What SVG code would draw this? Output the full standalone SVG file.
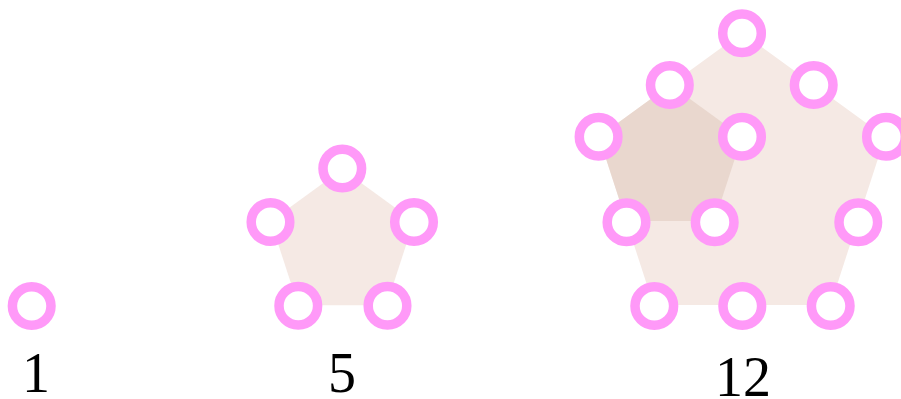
<svg xmlns="http://www.w3.org/2000/svg" width="901" height="399" viewBox="0 0 901 399">
<style>
.dot{fill:#ffffff;stroke:#ff99f8;stroke-width:9.5}
.pent{fill:#f5e9e4}
.pent2{fill:#e9d7ce}
.lbl{font-family:"Liberation Serif","Times New Roman",serif;font-size:56px;fill:#000;text-anchor:middle}
</style>
<defs>
<circle id="d" r="19.3" class="dot"/>
</defs>
<g id="fig1">
<use href="#d" x="31.7" y="306"/>
<text class="lbl" x="36" y="392">1</text>
</g>
<g id="fig5">
<polygon class="pent" points="342.3,169.3 413.8,221.3 386.5,305.3 298.1,305.3 270.8,221.3"/>
<use href="#d" x="342.3" y="168.5"/>
<use href="#d" x="270.5" y="222"/>
<use href="#d" x="414" y="222"/>
<use href="#d" x="298.3" y="305.7"/>
<use href="#d" x="387.5" y="305.7"/>
<text class="lbl" x="342" y="392">5</text>
</g>
<g id="fig12">
<polygon class="pent" points="742,32.7 885.1,136.7 830.5,305 653.5,305 598.9,136.7"/>
<polygon class="pent2" points="670.4,84.7 742,136.7 714.6,220.9 626.2,220.9 598.9,136.7"/>
<use href="#d" x="742" y="33.3"/>
<use href="#d" x="669.8" y="85"/>
<use href="#d" x="813.7" y="85"/>
<use href="#d" x="598.6" y="136.7"/>
<use href="#d" x="742" y="136.7"/>
<use href="#d" x="886" y="136.7"/>
<use href="#d" x="626.5" y="222.3"/>
<use href="#d" x="714.7" y="222.3"/>
<use href="#d" x="858.3" y="222.3"/>
<use href="#d" x="654.3" y="306"/>
<use href="#d" x="742.3" y="306"/>
<use href="#d" x="830.7" y="306"/>
<text class="lbl" x="743" y="396">12</text>
</g>
</svg>
